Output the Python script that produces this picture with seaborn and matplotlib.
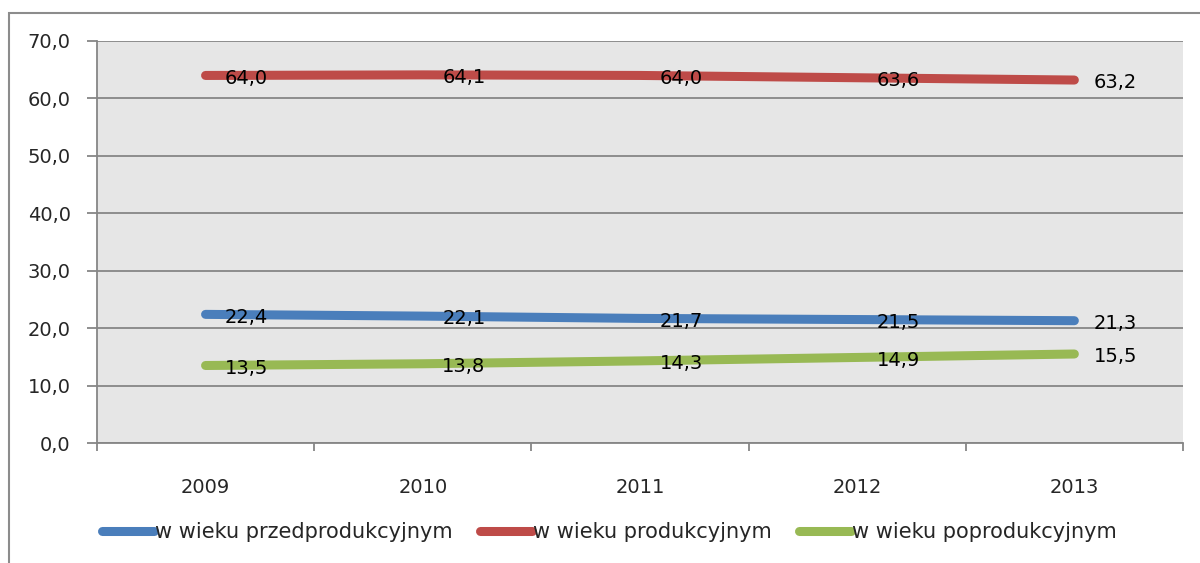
import pandas as pd
import numpy as np
import matplotlib.pyplot as plt
import seaborn as sns
from matplotlib.patches import Rectangle

# Data
years = ["2009", "2010", "2011", "2012", "2013"]
przed = [22.4, 22.1, 21.7, 21.5, 21.3]
prod = [64.0, 64.1, 64.0, 63.6, 63.2]
poprod = [13.5, 13.8, 14.3, 14.9, 15.5]
series_names = ["w wieku przedprodukcyjnym", "w wieku produkcyjnym", "w wieku poprodukcyjnym"]
colors = ["#4A7EBB", "#BE4B48", "#98B954"]

df = pd.DataFrame({
    "rok": years * 3,
    "wartosc": przed + prod + poprod,
    "grupa": [series_names[0]] * 5 + [series_names[1]] * 5 + [series_names[2]] * 5,
})
df["x"] = df["rok"].map({y: i for i, y in enumerate(years)})

sns.set_style("white")
plt.rcParams["font.family"] = ["DejaVu Sans"]

fs = 14

fig = plt.figure(figsize=(12, 5.63), dpi=100)
ax = fig.add_axes([0.0808, 0.2131, 0.9050, 0.7141])

# outer frame of the chart (left and top edges visible)
fig.patches.append(Rectangle((9 / 1200, -0.05), 1.2, 1 - 13 / 563 + 0.05,
                             transform=fig.transFigure, fill=False,
                             edgecolor="#8C8C8C", linewidth=1.5))

ax.set_facecolor("#E6E6E6")

sns.lineplot(
    data=df, x="x", y="wartosc", hue="grupa",
    palette=colors, hue_order=series_names,
    linewidth=6.5, ax=ax, legend=False,
    solid_capstyle="round"
)

# data labels
for vals in [przed, prod, poprod]:
    for i, v in enumerate(vals):
        ax.annotate(f"{v:.1f}".replace(".", ","), (i, v),
                    xytext=(14, -2), textcoords="offset points",
                    ha="left", va="center", fontsize=fs, color="black")

ax.set_xlim(-0.5, 4.5)
ax.set_ylim(0, 70)
ax.set_yticks(np.arange(0, 71, 10))
ax.set_yticklabels([f"{t:.1f}".replace(".", ",") for t in np.arange(0, 71, 10)])
ax.set_xticks(range(5))
ax.set_xticklabels(years)
ax.set_xticks(np.arange(-0.5, 5, 1), minor=True)

ax.yaxis.grid(True, color="#868686", linewidth=1.3)
ax.set_axisbelow(True)
ax.tick_params(axis="y", which="major", length=7, width=1.3, color="#868686",
               pad=12, labelsize=fs, left=True)
ax.tick_params(axis="x", which="major", length=0, pad=25, labelsize=fs)
ax.tick_params(axis="x", which="minor", length=6, width=1.3, color="#868686",
               bottom=True, direction="out")

for side in ["top", "right"]:
    ax.spines[side].set_visible(False)
for side in ["left", "bottom"]:
    ax.spines[side].set_color("#868686")
    ax.spines[side].set_linewidth(1.3)

ax.set_xlabel("")
ax.set_ylabel("")

handles = [plt.Line2D([0], [0], color=c, linewidth=6.5, solid_capstyle="round") for c in colors]
fig.legend(handles, series_names, loc="center", bbox_to_anchor=(0.508, 1 - 532 / 563),
           ncol=3, frameon=False, fontsize=15, handlelength=2.5,
           handletextpad=0.05, columnspacing=1.3)

plt.savefig("out.png", dpi=100)
